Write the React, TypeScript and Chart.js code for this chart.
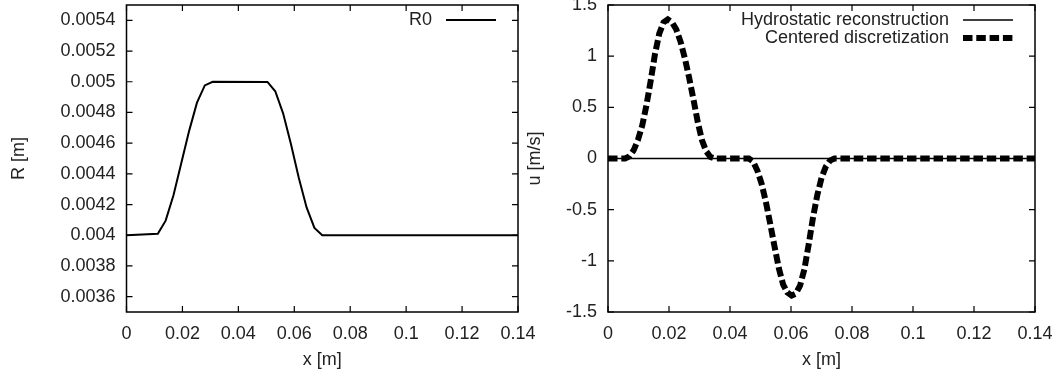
import React, { useEffect, useRef } from "react";
import { Chart, registerables } from "chart.js";

Chart.register(...registerables);

// ---- tick values ----
const xTicks = [0, 0.02, 0.04, 0.06, 0.08, 0.1, 0.12, 0.14];
const rTicks = [0.0036, 0.0038, 0.004, 0.0042, 0.0044, 0.0046, 0.0048, 0.005, 0.0052, 0.0054];
const uTicks = [-1.5, -1, -0.5, 0, 0.5, 1, 1.5];

// ---- left panel: R0 ----
const r0X = [0, 0.0112, 0.014, 0.0168, 0.0196, 0.0224, 0.0252, 0.028, 0.0308, 0.0504, 0.0532, 0.056, 0.0588, 0.0616, 0.0644, 0.0672, 0.07, 0.14];
const r0Values = [0.004, 0.004009, 0.004095, 0.00426, 0.00447, 0.00468, 0.004864, 0.004976, 0.005, 0.004999, 0.004938, 0.004794, 0.004594, 0.004375, 0.004181, 0.004048, 0.004, 0.004];

// ---- right panel: velocity ----
const hydroX = [0, 0.14];
const hydroU = [0, 0];

const centeredX = [
  0, 0.0056,
  0.007, 0.0084, 0.0098, 0.0112, 0.0126, 0.014, 0.0154, 0.0168, 0.0182, 0.0196, 0.021,
  0.0224, 0.0238, 0.0252, 0.0266, 0.028, 0.0294, 0.0308, 0.0322, 0.0336, 0.035,
  0.0462, 0.0476, 0.049, 0.0504, 0.0518, 0.0532, 0.0546, 0.056, 0.0574, 0.0588, 0.0602,
  0.0616, 0.063, 0.0644, 0.0658, 0.0672, 0.0686, 0.07, 0.0714, 0.0728, 0.0742,
  0.14,
];
const centeredU = [
  0, 0,
  0.02, 0.08, 0.18, 0.32, 0.52, 0.76, 1.02, 1.22, 1.33, 1.36, 1.33,
  1.26, 1.14, 0.98, 0.79, 0.58, 0.36, 0.18, 0.07, 0.015, 0,
  0, -0.03, -0.12, -0.25, -0.43, -0.64, -0.86, -1.07, -1.23, -1.31, -1.34,
  -1.32, -1.24, -1.08, -0.84, -0.58, -0.36, -0.19, -0.08, -0.02, 0,
  0,
];

const TEXT = "#222";
const FONT = { family: "'Liberation Sans', Arial, sans-serif", size: 18 };
const H = 382;

type LegendEntry = { label: string; width: number; dash: number[] };

function gnuFrame(entries: LegendEntry[]) {
  return {
    id: "gnuFrame",
    afterDraw(chart: any) {
      const { ctx, chartArea: a } = chart;
      const xs = chart.scales.x;
      const ys = chart.scales.y;
      ctx.save();
      ctx.strokeStyle = "#000";
      ctx.lineWidth = 1.5;
      ctx.setLineDash([]);
      ctx.strokeRect(a.left, a.top, a.right - a.left, a.bottom - a.top);
      const tl = 6;
      ctx.lineWidth = 1.2;
      ctx.beginPath();
      xs.ticks.forEach((t: any) => {
        const px = xs.getPixelForValue(t.value);
        ctx.moveTo(px, a.bottom);
        ctx.lineTo(px, a.bottom - tl);
        ctx.moveTo(px, a.top);
        ctx.lineTo(px, a.top + tl);
      });
      ys.ticks.forEach((t: any) => {
        const py = ys.getPixelForValue(t.value);
        ctx.moveTo(a.left, py);
        ctx.lineTo(a.left + tl, py);
        ctx.moveTo(a.right, py);
        ctx.lineTo(a.right - tl, py);
      });
      ctx.stroke();

      // legend inside the plot, top right (gnuplot style: text then sample)
      ctx.font = `${FONT.size}px ${FONT.family}`;
      ctx.fillStyle = TEXT;
      ctx.textAlign = "right";
      ctx.textBaseline = "middle";
      entries.forEach((e, i) => {
        const y = a.top + 15 + i * 18;
        ctx.fillText(e.label, a.right - 86, y);
        ctx.beginPath();
        ctx.lineWidth = e.width;
        ctx.setLineDash(e.dash);
        ctx.lineCap = "butt";
        ctx.strokeStyle = "#000";
        ctx.moveTo(a.right - 72, y);
        ctx.lineTo(a.right - 22, y);
        ctx.stroke();
      });
      ctx.restore();
    },
  };
}

function fixedTicks(values: number[]) {
  return (scale: any) => {
    scale.ticks = values.map((v) => ({ value: v }));
  };
}

function baseScales(opts: {
  yMin: number;
  yMax: number;
  yTicks: number[];
  yWidth: number;
  yTitle: string;
  yTitlePad: number;
}) {
  return {
    x: {
      type: "linear",
      min: 0,
      max: 0.14,
      afterBuildTicks: fixedTicks(xTicks),
      afterFit: (s: any) => {
        s.height = H - 312;
        s.paddingLeft = 0;
        s.paddingRight = 0;
      },
      grid: { display: false, drawTicks: false },
      border: { display: false },
      ticks: {
        color: TEXT,
        font: FONT,
        padding: 11,
        maxRotation: 0,
        autoSkip: false,
        callback: (v: any) => String(v),
      },
      title: { display: true, text: "x [m]", color: TEXT, font: FONT, padding: { top: 0, bottom: 11 } },
    },
    y: {
      type: "linear",
      min: opts.yMin,
      max: opts.yMax,
      afterBuildTicks: fixedTicks(opts.yTicks),
      afterFit: (s: any) => {
        s.width = opts.yWidth;
        s.paddingTop = 0;
        s.paddingBottom = 0;
      },
      grid: { display: false, drawTicks: false },
      border: { display: false },
      ticks: {
        color: TEXT,
        font: FONT,
        padding: 11,
        autoSkip: false,
        callback: (v: any) => String(v),
      },
      title: { display: true, text: opts.yTitle, color: TEXT, font: FONT, padding: { top: opts.yTitlePad, bottom: 0 } },
    },
  };
}

function Panel({ left, width, makeConfig }: { left: number; width: number; makeConfig: () => any }) {
  const ref = useRef<HTMLCanvasElement>(null);
  useEffect(() => {
    const chart = new Chart(ref.current as HTMLCanvasElement, makeConfig());
    return () => chart.destroy();
  }, []);
  return (
    <canvas
      ref={ref}
      width={width}
      height={H}
      style={{ position: "absolute", left, top: 0, width, height: H }}
    />
  );
}

const LEFT_W = 560;
const RIGHT_LEFT = 520;
const RIGHT_W = 1063 - RIGHT_LEFT;

function leftConfig() {
  return {
    type: "line",
    data: {
      datasets: [
        {
          label: "R0",
          data: r0X.map((x, i) => ({ x, y: r0Values[i] })),
          borderColor: "#000",
          borderWidth: 2,
          pointRadius: 0,
          tension: 0,
          fill: false,
        },
      ],
    },
    options: {
      responsive: false,
      animation: false,
      devicePixelRatio: 1,
      layout: { padding: { left: 0, top: 5, right: LEFT_W - 518, bottom: 0 } },
      plugins: { legend: { display: false }, tooltip: { enabled: false } },
      scales: baseScales({
        yMin: 0.0035,
        yMax: 0.0055,
        yTicks: rTicks,
        yWidth: 126.5,
        yTitle: "R [m]",
        yTitlePad: 8,
      }),
    },
    plugins: [gnuFrame([{ label: "R0", width: 2, dash: [] }])],
  };
}

function rightConfig() {
  return {
    type: "line",
    data: {
      datasets: [
        {
          label: "Hydrostatic reconstruction",
          data: hydroX.map((x, i) => ({ x, y: hydroU[i] })),
          borderColor: "#000",
          borderWidth: 1.5,
          pointRadius: 0,
          tension: 0,
          fill: false,
          order: 1,
        },
        {
          label: "Centered discretization",
          data: centeredX.map((x, i) => ({ x, y: centeredU[i] })),
          borderColor: "#000",
          borderWidth: 6,
          borderDash: [9.5, 3.8],
          borderCapStyle: "butt",
          pointRadius: 0,
          tension: 0,
          fill: false,
          order: 0,
        },
      ],
    },
    options: {
      responsive: false,
      animation: false,
      devicePixelRatio: 1,
      layout: { padding: { left: 0, top: 5, right: 1063 - 1035, bottom: 0 } },
      plugins: { legend: { display: false }, tooltip: { enabled: false } },
      scales: baseScales({
        yMin: -1.5,
        yMax: 1.5,
        yTicks: uTicks,
        yWidth: 608 - RIGHT_LEFT,
        yTitle: "u [m/s]",
        yTitlePad: 4,
      }),
    },
    plugins: [
      gnuFrame([
        { label: "Hydrostatic reconstruction", width: 1.5, dash: [] },
        { label: "Centered discretization", width: 6, dash: [9.5, 3.8] },
      ]),
    ],
  };
}

export default function App() {
  return (
    <div
      style={{
        position: "fixed",
        left: 0,
        top: 0,
        width: 1063,
        height: H,
        background: "#fff",
        overflow: "hidden",
      }}
    >
      <Panel left={0} width={LEFT_W} makeConfig={leftConfig} />
      <Panel left={RIGHT_LEFT} width={RIGHT_W} makeConfig={rightConfig} />
    </div>
  );
}
